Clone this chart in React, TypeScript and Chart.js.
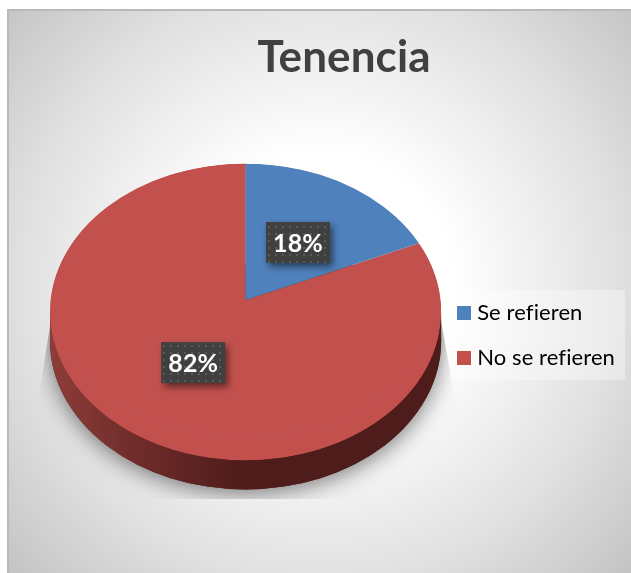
import React, { useEffect, useRef } from "react";
import { Chart, registerables } from "chart.js";

Chart.register(...registerables);

const titleText = "Tenencia";
const categories = ["Se refieren", "No se refieren"];
const shares = [18, 82];
const sliceColors = ["#4F81BD", "#C2514E"];

const VIEW = { rimY: 312, rimScale: 0.759, apexY: 300, wedgeScale: 0.697, depth: 29 };
const LEGEND_SHIFT = { x: 3, y: 52 };

function swatch(color: string) {
  const c = document.createElement("canvas");
  c.width = 14;
  c.height = 14;
  const x = c.getContext("2d")!;
  x.fillStyle = color;
  x.fillRect(0, 0, 14, 14);
  return c;
}

function dotPattern(ctx: CanvasRenderingContext2D) {
  const c = document.createElement("canvas");
  c.width = 7;
  c.height = 7;
  const x = c.getContext("2d")!;
  x.fillStyle = "#404040";
  x.fillRect(0, 0, 7, 7);
  x.fillStyle = "#595959";
  x.fillRect(2, 2, 2, 2);
  return ctx.createPattern(c, "repeat")!;
}

const tiltPlugin = {
  id: "tilt",
  beforeLayout(chart: any) {
    chart.ctx.letterSpacing = "0.1px";
  },
  afterLayout(chart: any) {
    chart.titleBlock.left += 10;
    const l = chart.legend;
    l.left -= LEGEND_SHIFT.x;
    l.right -= LEGEND_SHIFT.x;
    l.top += LEGEND_SHIFT.y;
    l.bottom += LEGEND_SHIFT.y;
  },
  beforeDraw(chart: any) {
    const { ctx, width, height } = chart;
    ctx.letterSpacing = "0.1px";
    ctx.save();
    ctx.fillStyle = "#fff";
    ctx.fillRect(0, 0, width, height);
    const g = ctx.createRadialGradient(320, 285, 0, 320, 285, 440);
    g.addColorStop(0, "#ffffff");
    g.addColorStop(0.3, "#ffffff");
    g.addColorStop(0.66, "#e2e2e2");
    g.addColorStop(1, "#c0c0c0");
    ctx.fillStyle = g;
    ctx.fillRect(8, 10, width - 8, height - 10);
    ctx.fillStyle = "#b9b9b9";
    ctx.fillRect(8, 9, width - 8, 2);
    ctx.fillRect(7, 9, 2, height - 9);
    // legend panel
    ctx.fillStyle = "rgba(255,255,255,0.35)";
    ctx.fillRect(444, 290, 181, 90);
    ctx.restore();
  },
  beforeDatasetsDraw(chart: any) {
    const { ctx } = chart;
    const arcs = chart.getDatasetMeta(0).data;
    const a = arcs[0];
    const cx = a.x;
    const cy = a.y;
    const r = a.outerRadius;
    const { rimY, rimScale, apexY, wedgeScale, depth } = VIEW;
    const ry = r * rimScale;

    // soft shadow, cut off by its own box as in the picture
    ctx.save();
    ctx.beginPath();
    ctx.moveTo(cx - r + 10, apexY - 35);
    ctx.lineTo(cx - r - 12, apexY + 100);
    ctx.lineTo(cx - r - 12, apexY + 199);
    ctx.lineTo(cx + r + 14, apexY + 199);
    ctx.lineTo(cx + r + 14, apexY + 100);
    ctx.lineTo(cx + r - 10, apexY - 35);
    ctx.closePath();
    ctx.clip();
    ctx.shadowColor = "rgba(0,0,0,0.5)";
    ctx.shadowBlur = 22;
    ctx.shadowOffsetY = 4;
    ctx.fillStyle = "#4e1c1b";
    ctx.beginPath();
    ctx.ellipse(cx, rimY + depth, r, ry, 0, 0, Math.PI * 2);
    ctx.fill();
    ctx.shadowColor = "rgba(0,0,0,0.3)";
    ctx.shadowBlur = 14;
    ctx.shadowOffsetY = 0;
    ctx.beginPath();
    ctx.ellipse(cx, rimY, r, ry, 0, 0, Math.PI * 2);
    ctx.fill();
    ctx.restore();

    // side wall
    ctx.save();
    const side = ctx.createLinearGradient(cx - r, 0, cx + r, 0);
    side.addColorStop(0, "#8d3d3a");
    side.addColorStop(0.25, "#6b2a28");
    side.addColorStop(0.5, "#4e1c1b");
    side.addColorStop(1, "#4e1c1b");
    ctx.fillStyle = side;
    ctx.beginPath();
    ctx.ellipse(cx, rimY + depth, r, ry, 0, 0, Math.PI);
    ctx.lineTo(cx - r, rimY);
    ctx.lineTo(cx + r, rimY);
    ctx.closePath();
    ctx.fill();
    ctx.restore();

    // top face: the library's arcs, seen under tilt; the apex sits above the rim's centre
    ctx.save();
    ctx.beginPath();
    ctx.ellipse(cx, rimY, r, ry, 0, 0, Math.PI * 2);
    ctx.clip();
    const paint = (arc: any, y0: number, k: number) => {
      ctx.save();
      ctx.translate(0, y0);
      ctx.scale(1, k);
      ctx.translate(0, -cy);
      arc.draw(ctx, chart.chartArea);
      ctx.restore();
    };
    paint(arcs[1], rimY, rimScale);
    paint(arcs[1], apexY, wedgeScale);
    paint(arcs[0], apexY, wedgeScale);
    ctx.restore();
    return false;
  },
  afterDraw(chart: any) {
    const { ctx } = chart;
    const arcs = chart.getDatasetMeta(0).data;
    const { apexY, wedgeScale, rimScale } = VIEW;
    const fill = dotPattern(ctx);
    arcs.forEach((arc: any, i: number) => {
      const p = arc.getCenterPoint();
      const dy = p.y - arc.y;
      const x = p.x;
      const y = apexY + dy * (dy < 0 ? wedgeScale : rimScale);
      const w = 64;
      const h = 41;
      ctx.save();
      ctx.shadowColor = "rgba(0,0,0,0.5)";
      ctx.shadowBlur = 7;
      ctx.shadowOffsetX = 3;
      ctx.shadowOffsetY = 4;
      ctx.fillStyle = fill;
      ctx.fillRect(x - w / 2, y - h / 2, w, h);
      ctx.restore();
      ctx.save();
      ctx.fillStyle = "#ffffff";
      ctx.font = "bold 25px Lato";
      ctx.textAlign = "center";
      ctx.textBaseline = "middle";
      ctx.fillText(`${shares[i]}%`, x, y + 1);
      ctx.restore();
    });
  },
};

export default function App() {
  const ref = useRef<HTMLCanvasElement>(null);
  useEffect(() => {
    document.body.style.margin = "0";
    const chart = new Chart(ref.current!, {
      type: "pie",
      data: {
        labels: categories,
        datasets: [{ data: shares, backgroundColor: sliceColors, borderWidth: 0 }],
      },
      plugins: [tiltPlugin],
      options: {
        responsive: false,
        animation: false,
        layout: { padding: { left: 50, right: 3, top: 31, bottom: 37 } },
        plugins: {
          tooltip: { enabled: false },
          title: {
            display: true,
            text: titleText,
            color: "#404040",
            font: { family: "Lato", size: 44, weight: "bold" },
            padding: { top: 0, bottom: 0 },
          },
          legend: {
            position: "right",
            labels: {
              color: "#555555",
              font: { family: "Lato", size: 22 },
              usePointStyle: true,
              pointStyleWidth: 5,
              padding: 23,
              generateLabels: () =>
                categories.map((text, index) => ({
                  text,
                  index,
                  fillStyle: sliceColors[index],
                  strokeStyle: sliceColors[index],
                  lineWidth: 0,
                  pointStyle: swatch(sliceColors[index]),
                  hidden: false,
                })),
            },
          },
        },
      } as any,
    });
    return () => chart.destroy();
  }, []);
  return <canvas ref={ref} width={631} height={573} style={{ display: "block" }} />;
}
